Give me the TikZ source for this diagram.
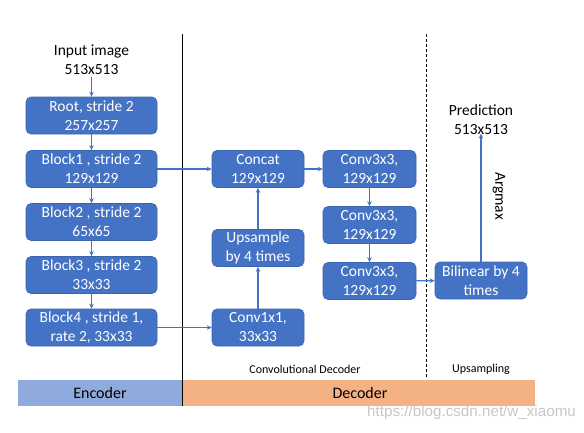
\documentclass[tikz,border=0pt]{standalone}
\usepackage{fontspec}
\setmainfont{Carlito}
\newfontfamily\wmfont{Liberation Sans}
\usetikzlibrary{arrows.meta}
\definecolor{boxblue}{HTML}{4472C4}
\definecolor{boxedge}{HTML}{3B64AE}
\definecolor{encblue}{HTML}{8FAADC}
\definecolor{decorange}{HTML}{F4B183}
\tikzset{
  blk/.style={rectangle, rounded corners=5pt, fill=boxblue, draw=boxedge, line width=0.6pt,
    text=white, align=center, font=\fontsize{15.5}{19}\selectfont, inner sep=0pt,
    minimum height=37pt},
  wide/.style={blk, minimum width=131pt},
  narrow/.style={blk, minimum width=92pt},
  conn/.style={draw=boxblue, line width=1.3pt, -{Stealth[length=5pt,width=4.5pt]}},
  plain/.style={align=center, font=\fontsize{15.5}{19}\selectfont, inner sep=0pt},
  small/.style={font=\fontsize{12}{14}\selectfont, inner sep=0pt},
  bartext/.style={font=\fontsize{16}{18}\selectfont, inner sep=0pt}
}
\begin{document}
\begin{tikzpicture}[x=1pt,y=-1pt]
\useasboundingbox (0,0) rectangle (584,432);
% bottom bar
\fill[encblue] (18,380) rectangle (182,406);
\fill[decorange] (182,380) rectangle (535,406);
\node[bartext] (enc) at (100,393) {Encoder};
\node[bartext] (dec) at (360,393) {Decoder};
\node[small] (cdl) at (305,369) {Convolutional Decoder};
\node[small] (upl) at (481,369) {Upsampling};
% separators
\coordinate (s1t) at (182,34);
\coordinate (s1b) at (182,406);
\coordinate (s2t) at (426,34);
\coordinate (s2b) at (426,378);
\draw[black, line width=0.8pt] (s1t) -- (s1b);
\draw[black, line width=0.7pt, dash pattern=on 3pt off 2pt] (s2t) -- (s2b);
% encoder
\node[plain] (inp) at (91.5,59.5) {Input image\\513x513};
\node[wide] (root) at (91.5,115.5) {Root, stride 2\\257x257};
\node[wide] (b1) at (91.5,169) {Block1 , stride 2\\129x129};
\node[wide] (b2) at (91.5,222) {Block2 , stride 2\\65x65};
\node[wide] (b3) at (91.5,275) {Block3 , stride 2\\33x33};
\node[wide] (b4) at (91.5,327.5) {Block4 , stride 1,\\ rate 2, 33x33};
% decoder
\node[narrow] (cat) at (258,169) {Concat\\129x129};
\node[narrow] (ups) at (258,248) {Upsample\\by 4 times};
\node[narrow] (c11) at (258,327.5) {Conv1x1,\\33x33};
\node[narrow, minimum width=93pt] (ca) at (369.5,169) {Conv3x3,\\129x129};
\node[narrow, minimum width=93pt] (cb) at (369.5,225) {Conv3x3,\\129x129};
\node[narrow, minimum width=93pt] (cc) at (369.5,281) {Conv3x3,\\129x129};
\node[narrow] (bil) at (481,280.5) {Bilinear by 4\\times};
\node[plain] (pred) at (481,119.5) {Prediction\\513x513};
\node[plain, rotate=-90] (arg) at (499,196) {Argmax};
% connectors
\draw[conn] (inp.south) ++(0,2) -- (root.north);
\draw[conn] (root) -- (b1);
\draw[conn] (b1) -- (b2);
\draw[conn] (b2) -- (b3);
\draw[conn] (b3) -- (b4);
\draw[conn] (b1) -- (cat);
\draw[conn] (b4) -- (c11);
\draw[conn] (c11) -- (ups);
\draw[conn] (ups) -- (cat);
\draw[conn] (cat) -- (ca);
\draw[conn] (ca) -- (cb);
\draw[conn] (cb) -- (cc);
\draw[conn] (cc) -- (bil);
\draw[conn] (bil) -- ([yshift=1pt]pred.south);
% watermark
\node[font=\wmfont\fontsize{15.2}{17}\selectfont, text=black!22, anchor=west, inner sep=0pt] (wm) at (367,413) {https://blog.csdn.net/w\_xiaomu};
\end{tikzpicture}
\end{document}
